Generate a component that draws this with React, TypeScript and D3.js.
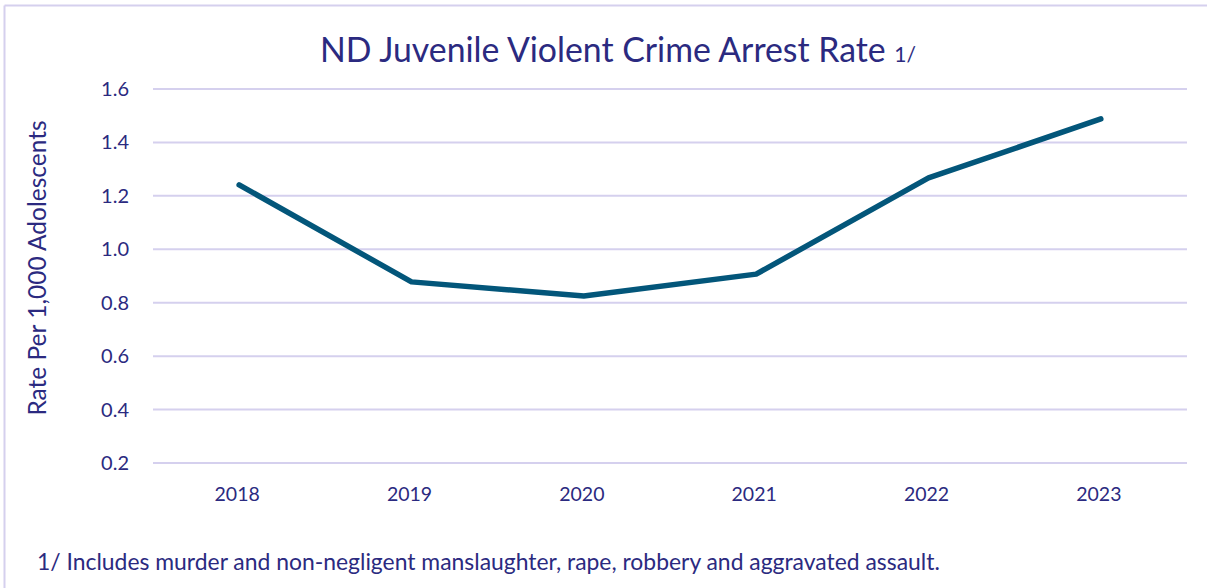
import React from "react";
import * as d3 from "d3";

const years = ["2018", "2019", "2020", "2021", "2022", "2023"];
const rates = [1.241, 0.878, 0.825, 0.907, 1.267, 1.488];
const yTicks = [0.2, 0.4, 0.6, 0.8, 1.0, 1.2, 1.4, 1.6];

const W = 1207;
const H = 588;
const textColor = "#2B2A80";
const gridColor = "#D5D0EE";
const lineColor = "#03567A";
const font = "Lato, 'Open Sans', sans-serif";

export default function App() {
  const x = d3.scaleBand<string>().domain(years).range([153, 1187]);
  const y = d3.scaleLinear().domain([0.2, 1.6]).range([463, 89]);
  const line = d3
    .line<number>()
    .x((_, i) => (x(years[i]) as number) + x.bandwidth() / 2)
    .y((d) => y(d));

  return (
    <svg
      width={W}
      height={H}
      style={{ position: "absolute", left: 0, top: 0, background: "#fff" }}
      fontFamily={font}
    >
      <rect x={0} y={0} width={W} height={H} fill="#fff" />
      <line x1={4.5} y1={5.5} x2={4.5} y2={H} stroke={gridColor} strokeWidth={2} />
      <line x1={4.5} y1={5.5} x2={W} y2={5.5} stroke={gridColor} strokeWidth={2} />

      <text x={618} y={62} textAnchor="middle" fill={textColor} fontSize={33.8}>
        ND Juvenile Violent Crime Arrest Rate{" "}
        <tspan fontSize={21}>1/</tspan>
      </text>

      {yTicks.map((t) => (
        <g key={t}>
          <line x1={153} x2={1187} y1={y(t)} y2={y(t)} stroke={gridColor} strokeWidth={2} />
          <text x={129} y={y(t)} dy="0.35em" textAnchor="end" fill={textColor} fontSize={20}>
            {t.toFixed(1)}
          </text>
        </g>
      ))}

      {years.map((yr) => (
        <text
          key={yr}
          x={(x(yr) as number) + x.bandwidth() / 2 - 2}
          y={501}
          textAnchor="middle"
          fill={textColor}
          fontSize={19.5}
        >
          {yr}
        </text>
      ))}

      <text
        transform={`translate(46,268) rotate(-90)`}
        textAnchor="middle"
        fill={textColor}
        fontSize={24.5}
      >
        Rate Per 1,000 Adolescents
      </text>

      <path
        d={line(rates) || ""}
        fill="none"
        stroke={lineColor}
        strokeWidth={5.5}
        strokeLinecap="round"
        strokeLinejoin="round"
      />

      <text x={37} y={570} fill={textColor} fontSize={22.9}>
        1/ Includes murder and non-negligent manslaughter, rape, robbery and aggravated assault.
      </text>
    </svg>
  );
}
